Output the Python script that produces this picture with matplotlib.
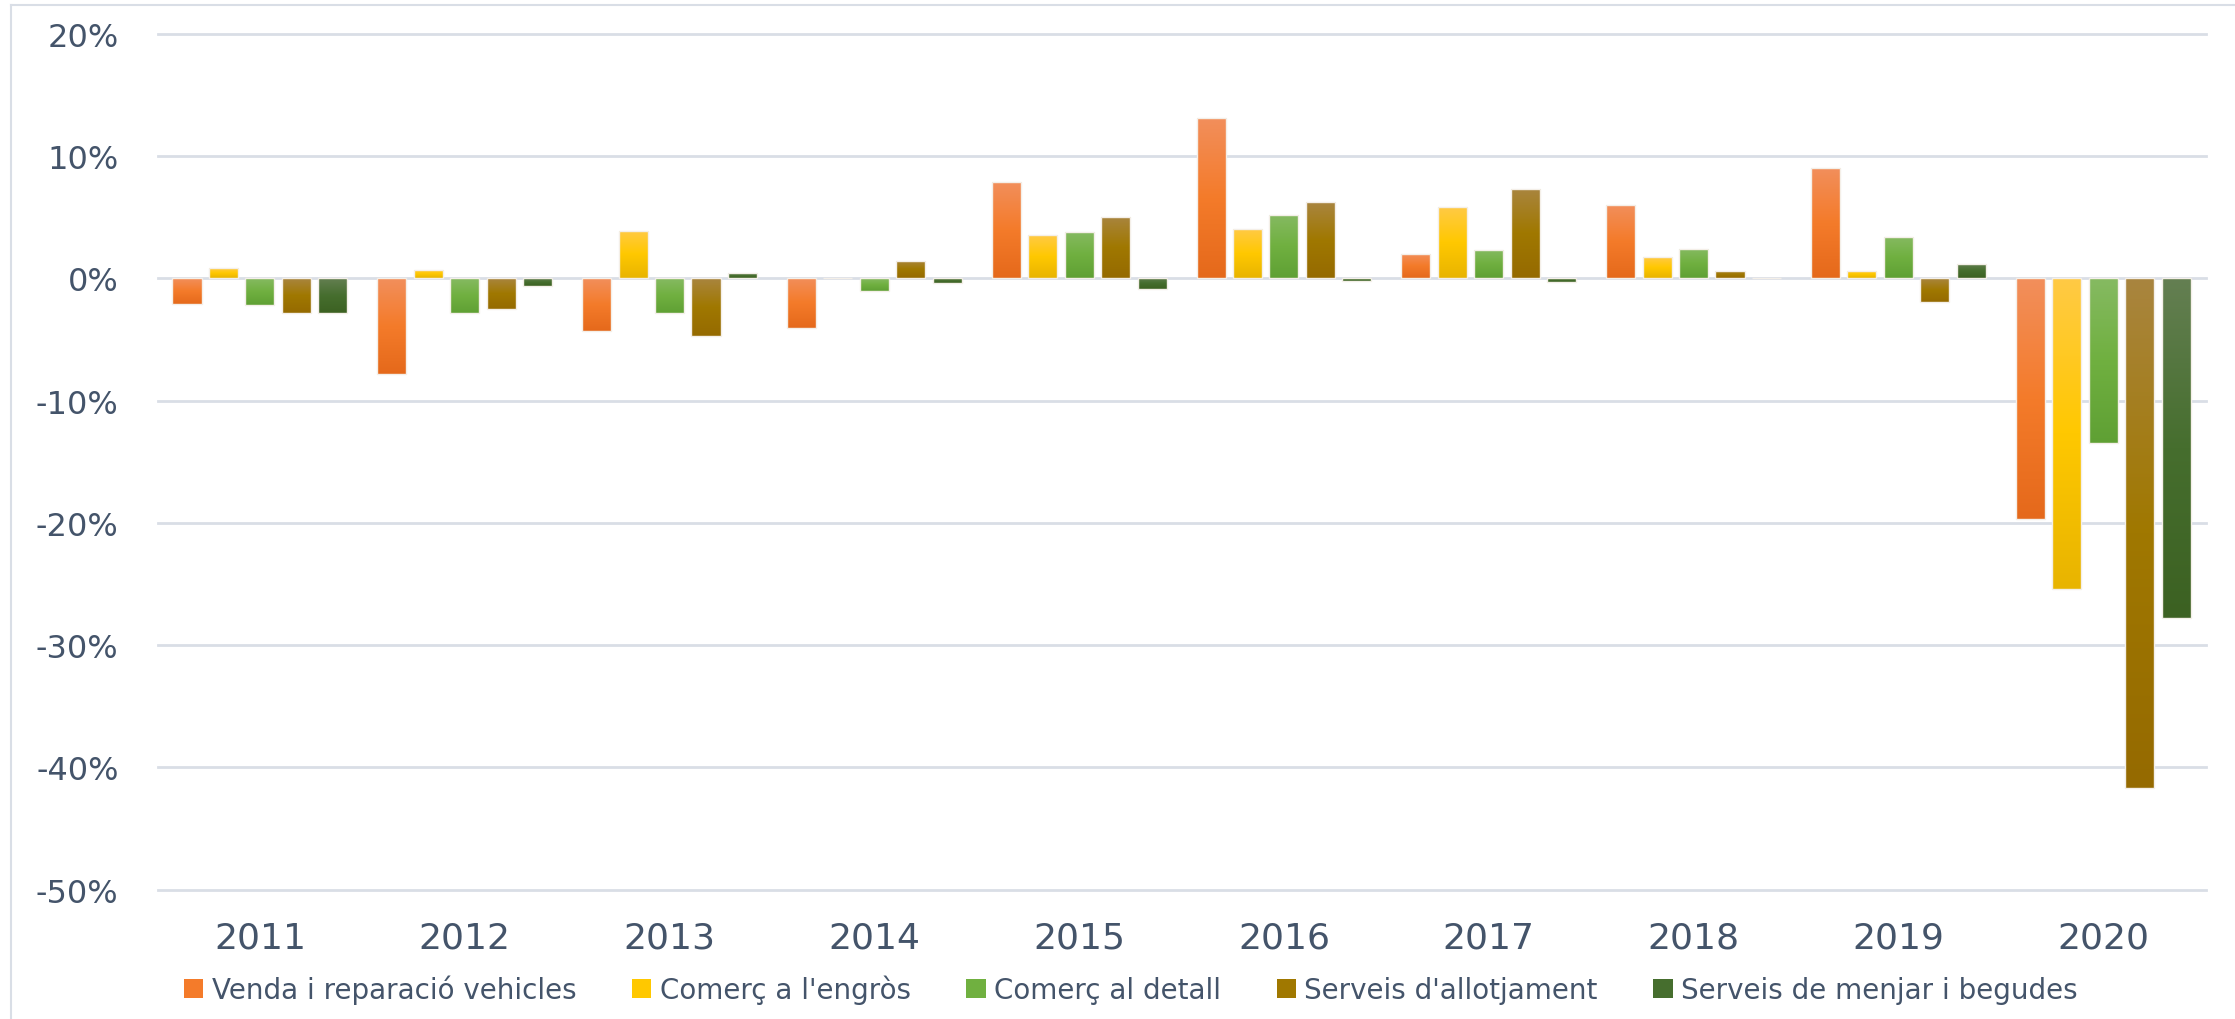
import numpy as np
import matplotlib
matplotlib.use("Agg")
import matplotlib.pyplot as plt
from matplotlib.colors import LinearSegmentedColormap
from matplotlib.patches import Patch
from matplotlib.lines import Line2D

# --- données (variation anuale, %) ---
anys = ["2011", "2012", "2013", "2014", "2015", "2016", "2017", "2018", "2019", "2020"]
series = ["Venda i reparació vehicles", "Comerç a l'engròs", "Comerç al detall",
          "Serveis d'allotjament", "Serveis de menjar i begudes"]
venda = [-2.1, -7.8, -4.3, -4.1, 7.9, 13.1, 2.0, 6.0, 9.0, -19.7]
engros = [0.8, 0.7, 3.9, 0.0, 3.5, 4.0, 5.8, 1.7, 0.6, -25.4]
detall = [-2.2, -2.8, -2.8, -1.0, 3.8, 5.2, 2.3, 2.4, 3.4, -13.5]
allotjament = [-2.8, -2.5, -4.7, 1.4, 5.0, 6.2, 7.3, 0.6, -1.9, -41.7]
menjar = [-2.8, -0.6, 0.4, -0.4, -0.9, -0.2, -0.3, 0.0, 1.2, -27.8]
valors = [venda, engros, detall, allotjament, menjar]

# dégradés (haut, milieu, bas) pour chaque série
degrades = [
    ("#F28F5C", "#F47B2A", "#E5691B"),
    ("#FFCA45", "#FFC800", "#E8B400"),
    ("#86BA62", "#70B040", "#5FA034"),
    ("#A9853F", "#A07800", "#956A00"),
    ("#647F52", "#466E2E", "#3C6122"),
]
couleur_texte = "#44546A"
couleur_grille = "#D9DEE6"

W, H = 2235, 1020
fig = plt.figure(figsize=(W / 100, H / 100), dpi=100)
ax = fig.add_axes([157.5 / W, 1 - 890.7 / H, (2205.6 - 157.5) / W, (890.7 - 34.7) / H])

slot = 0.178
larg = 0.142
x = np.arange(len(anys))
grad = np.linspace(0, 1, 256).reshape(-1, 1)

for i, (vals, cols) in enumerate(zip(valors, degrades)):
    cmap = LinearSegmentedColormap.from_list(f"g{i}", list(cols))
    pos = x + (i - 2) * slot
    bars = ax.bar(pos, vals, width=larg, color="none", edgecolor="#F4EFE8", linewidth=1.0, zorder=3)
    for b in bars:
        x0, y0 = b.get_x(), b.get_y()
        w, h = b.get_width(), b.get_height()
        if h == 0:
            continue
        ytop, ybot = max(y0, y0 + h), min(y0, y0 + h)
        # ligne 0 du dégradé (clair) en haut de la barre
        im = ax.imshow(grad, cmap=cmap, aspect="auto", extent=[x0, x0 + w, ybot, ytop],
                       origin="upper", zorder=2, interpolation="bilinear")
        im.set_clip_path(b)

ax.set_xlim(-0.5, len(anys) - 0.5)
ax.set_ylim(-50, 20)
ax.set_yticks(np.arange(-50, 21, 10))
ax.set_yticklabels([f"{v:.0f}%" for v in np.arange(-50, 21, 10)])
ax.set_xticks(x)
ax.set_xticklabels(anys)
for t in np.arange(-50, 21, 10):
    ax.axhline(t, color=couleur_grille, linewidth=2.0, zorder=0, clip_on=False)
for s in ax.spines.values():
    s.set_visible(False)
ax.tick_params(axis="y", length=0, pad=28, labelsize=23, labelcolor=couleur_texte)
ax.tick_params(axis="x", length=0, pad=22, labelsize=26, labelcolor=couleur_texte)

handles = [Patch(facecolor=c[1], edgecolor="none") for c in degrades]
fig.legend(handles, series, loc="center", bbox_to_anchor=(0.506, 0.029), ncol=5,
           frameon=False, fontsize=20, labelcolor=couleur_texte,
           handlelength=0.7, handleheight=0.7, handletextpad=0.3, columnspacing=2.0)

# cadre extérieur
fig.add_artist(Line2D([10.7 / W, 10.7 / W], [0, 1 - 6 / H], color=couleur_grille, linewidth=1.5))
fig.add_artist(Line2D([10.7 / W, 1], [1 - 6 / H, 1 - 6 / H], color=couleur_grille, linewidth=1.5))

fig.savefig("out.png", dpi=100, facecolor="white")
